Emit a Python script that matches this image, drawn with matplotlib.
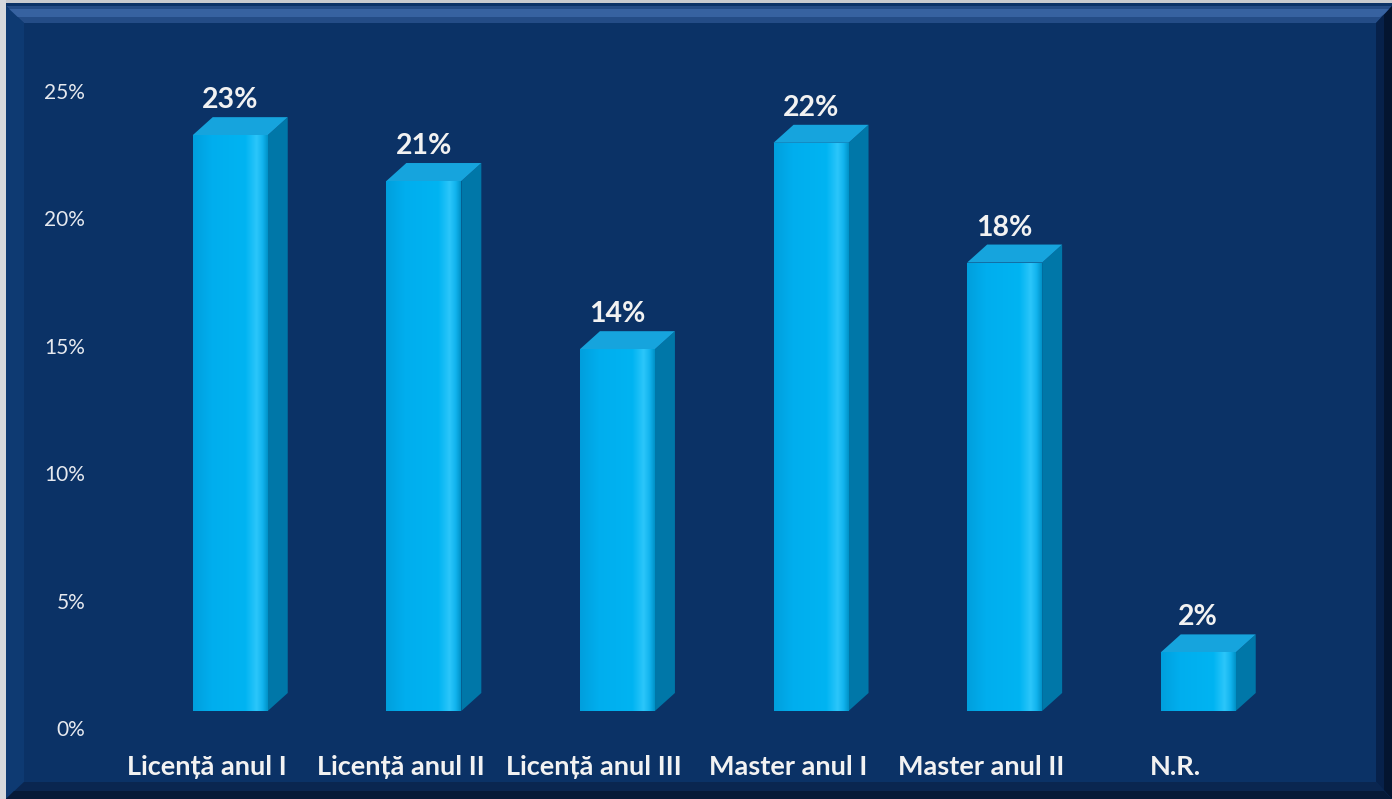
import numpy as np
import matplotlib
matplotlib.use("Agg")
import matplotlib.pyplot as plt
from matplotlib.patches import Polygon, Rectangle
from matplotlib.colors import LinearSegmentedColormap
import matplotlib.transforms as mtransforms

# ---- data ----
categories = ["Licență anul I", "Licență anul II", "Licență anul III",
              "Master anul I", "Master anul II", "N.R."]
values = [22.6, 20.8, 14.2, 22.3, 17.6, 2.3]
yticks = [0, 5, 10, 15, 20, 25]
ytick_labels = ["0%", "5%", "10%", "15%", "20%", "25%"]

W, H, DPI = 1392, 799, 100
fig = plt.figure(figsize=(W / DPI, H / DPI), dpi=DPI, facecolor="#C9CBCF")

def fx(px):
    return px / W

def fy(py):
    return 1 - py / H

NAVY = "#0B3266"
fig.patches.append(Rectangle((fx(6), fy(799)), fx(1392) - fx(6), fy(3) - fy(799),
                             transform=fig.transFigure, facecolor=NAVY, edgecolor="none", zorder=-10))

def fpoly(pts, color, z=-9):
    fig.patches.append(Polygon([(fx(a), fy(b)) for a, b in pts], closed=True,
                               transform=fig.transFigure, facecolor=color,
                               edgecolor="none", zorder=z))

fpoly([(6, 6), (1392, 6), (1376, 23), (24, 23)], "#244C86")
fpoly([(6, 9), (1392, 9), (1380, 17), (16, 17)], "#3762A0")
fpoly([(6, 6), (24, 23), (24, 782), (6, 799)], "#0E3A72")
fpoly([(1392, 6), (1376, 23), (1376, 782), (1392, 799)], "#07214A")
fpoly([(1392, 6), (1384, 15), (1384, 790), (1392, 799)], "#041530")
fpoly([(6, 799), (24, 782), (1376, 782), (1392, 799)], "#0A2650")
fpoly([(6, 799), (14, 791), (1384, 791), (1392, 799)], "#061A38")
fig.patches.append(Rectangle((0, 0), fx(6), 1, transform=fig.transFigure,
                             facecolor="#D7D9DC", edgecolor="none", zorder=-9))

# ---- axes ----
ax_left, ax_right, ax_top, ax_bot = 95, 1370, 60, 745
ax = fig.add_axes([fx(ax_left), fy(ax_bot), fx(ax_right) - fx(ax_left), fy(ax_top) - fy(ax_bot)])
ax.set_zorder(5)
ax.set_facecolor("none")
px_per_cat = 193.6
x0_px = 207
px_per_unit = (728 - 91) / 25
for s in ax.spines.values():
    s.set_visible(False)

ax.set_yticks(yticks)
ax.set_yticklabels(ytick_labels, fontsize=15, color="#E6E9EF", fontfamily="Lato")
ax.tick_params(axis="y", length=0, pad=7)
ax.set_xticks(range(len(categories)))
ax.set_xticklabels(categories, fontsize=19.5, fontweight="bold", color="#F2F2F2", fontfamily="Lato")
ax.tick_params(axis="x", length=0, pad=7)

shift = mtransforms.ScaledTranslation(0, 17 / DPI, fig.dpi_scale_trans)
trans = ax.transData + shift
off = 0.12
bw = 75 / px_per_cat
dx = 20 / px_per_cat
dy = 18 / px_per_unit

cmap = LinearSegmentedColormap.from_list(
    "front", [(0, "#009FDD"), (0.25, "#00AEEE"), (0.7, "#00B4F2"),
              (0.85, "#2CC6FA"), (0.93, "#12B4EE"), (1.0, "#0092C8")])
grad = np.linspace(0, 1, 256).reshape(1, -1)

for i, v in enumerate(values):
    xl = i + off - bw / 2
    xr = i + off + bw / 2
    side = Polygon([(xr, 0), (xr + dx, dy), (xr + dx, v + dy), (xr, v)], closed=True,
                   facecolor="#0077A8", edgecolor="none", transform=trans, zorder=2)
    ax.add_patch(side)
    top = Polygon([(xl, v), (xr, v), (xr + dx, v + dy), (xl + dx, v + dy)], closed=True,
                  facecolor="#16A4DD", edgecolor="none", transform=trans, zorder=3)
    ax.add_patch(top)
    bars = ax.bar([i + off], [v], width=bw, bottom=0, color="#00B0F0",
                  transform=trans, zorder=4, linewidth=0)
    rect = bars[0]
    im = ax.imshow(grad, cmap=cmap, aspect="auto", extent=(xl, xr, 0, v),
                   transform=trans, zorder=5, interpolation="bilinear")
    im.set_clip_path(rect)
    ax.text(i + off, v + dy, f"{v:.0f}%",
            transform=trans + mtransforms.ScaledTranslation(0, 4 / DPI, fig.dpi_scale_trans),
            ha="center", va="bottom", fontsize=20.5, fontweight="bold",
            color="#F2F2F2", fontfamily="Lato", zorder=6)

ax.set_xlim((ax_left - x0_px) / px_per_cat, (ax_right - x0_px) / px_per_cat)
ax.set_ylim(-(ax_bot - 728) / px_per_unit, (728 - ax_top) / px_per_unit)

fig.savefig("out.png", dpi=DPI, facecolor=fig.get_facecolor())
